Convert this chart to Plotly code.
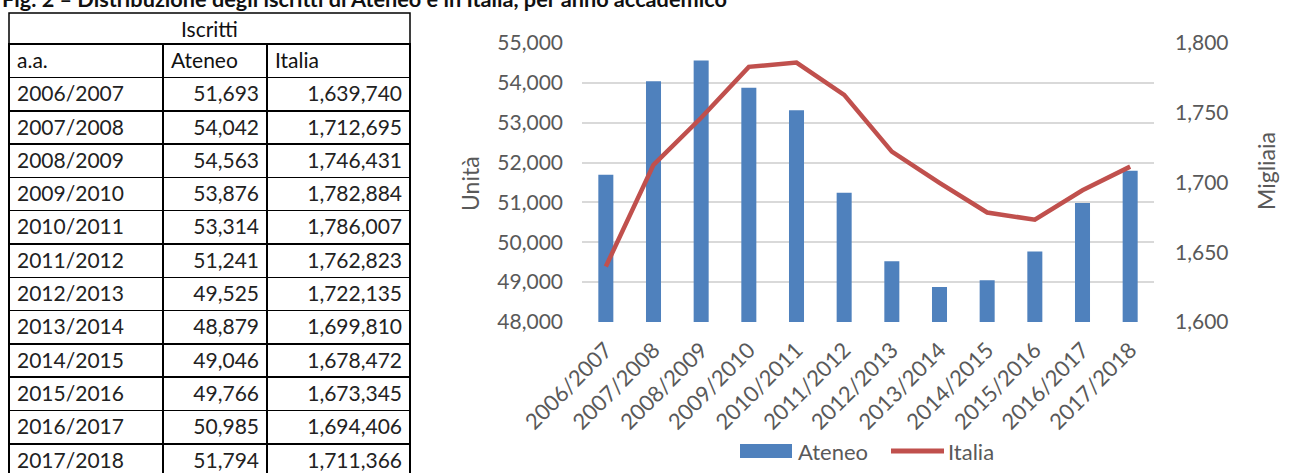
import plotly.graph_objects as go

W, H = 1294, 473

anni = ["2006/2007", "2007/2008", "2008/2009", "2009/2010", "2010/2011", "2011/2012",
        "2012/2013", "2013/2014", "2014/2015", "2015/2016", "2016/2017", "2017/2018"]
ateneo = [51693, 54042, 54563, 53876, 53314, 51241, 49525, 48879, 49046, 49766, 50985, 51794]
italia = [1639740, 1712695, 1746431, 1782884, 1786007, 1762823, 1722135, 1699810,
          1678472, 1673345, 1694406, 1711366]

titolo = "Fig. 2 – Distribuzione degli iscritti di Ateneo e in Italia, per anno accademico"
header_table = ["a.a.", "Ateneo", "Italia"]

FONT = "Lato"
GREY = "#595959"
BLUE = "#4F81BD"
RED = "#C0504D"


def px(x):
    return x / W


def py(y):
    return 1 - y / H


fig = go.Figure()

# table
fig.add_trace(go.Table(
    domain=dict(x=[px(9), px(410)], y=[0, py(44)]),
    columnwidth=[154, 104, 143],
    header=dict(values=header_table, align=["left", "left", "left"],
                fill_color="white", line=dict(color="black", width=1.5),
                font=dict(family=FONT, size=21, color="#111"), height=33.5),
    cells=dict(values=[anni, [f"{v:,}" for v in ateneo], [f"{v:,}" for v in italia]],
               align=["left", "right", "right"], fill_color="white",
               line=dict(color="black", width=1.5),
               font=dict(family=FONT, size=21, color="#222"), height=33.3),
))

# chart
fig.add_trace(go.Bar(x=anni, y=ateneo, name="Ateneo", marker=dict(color=BLUE, line=dict(width=0)),
                     showlegend=False))
fig.add_trace(go.Scatter(x=anni, y=[v / 1000 for v in italia], name="Italia", mode="lines",
                         line=dict(color=RED, width=4.5), yaxis="y2", showlegend=False))

fig.update_layout(
    width=W, height=H,
    margin=dict(l=0, r=0, t=0, b=0, autoexpand=False),
    paper_bgcolor="white", plot_bgcolor="white",
    bargap=0.685,
    xaxis=dict(domain=[px(582), px(1154)], type="category", tickangle=-45, automargin=False,
               tickfont=dict(family=FONT, size=22, color=GREY), showline=False,
               showgrid=False, ticks="", ticklabelstandoff=10),
    yaxis=dict(domain=[py(322), py(43)], range=[48000, 55000], dtick=1000, tickformat=",",
               gridcolor="#D9D9D9", gridwidth=1.5, showline=False, zeroline=False, automargin=False,
               tickfont=dict(family=FONT, size=21, color=GREY), ticklabelstandoff=18),
    yaxis2=dict(overlaying="y", side="right", range=[1600, 1800], dtick=50, tickformat=",",
                showgrid=False, zeroline=False, showline=False, automargin=False,
                tickfont=dict(family=FONT, size=21, color=GREY), ticklabelstandoff=20),
)

shapes = [
    dict(type="rect", xref="paper", yref="paper", x0=px(9), x1=px(410), y0=py(44), y1=py(13),
         line=dict(color="black", width=1.5), fillcolor="white", layer="below"),
    dict(type="rect", xref="paper", yref="paper", x0=px(740), x1=px(792), y0=py(458), y1=py(444),
         line=dict(width=0), fillcolor=BLUE),
    dict(type="line", xref="paper", yref="paper", x0=px(891), x1=px(944), y0=py(451), y1=py(451),
         line=dict(color=RED, width=5)),
]
annotations = [
    dict(text="Iscritti", x=px(209.5), y=py(28.5), xref="paper", yref="paper",
         xanchor="center", yanchor="middle",
         showarrow=False, font=dict(family=FONT, size=21, color="#111")),
    dict(text="<b>" + titolo + "</b>", x=0, y=py(-1), xref="paper", yref="paper",
         xanchor="left", yanchor="middle", showarrow=False,
         font=dict(family=FONT, size=21.7, color="#111")),
    dict(text="Unità", x=px(470), y=py(184), xref="paper", yref="paper", textangle=-90,
         xanchor="center", yanchor="middle",
         showarrow=False, font=dict(family=FONT, size=23, color=GREY)),
    dict(text="Migliaia", x=px(1266), y=py(171), xref="paper", yref="paper", textangle=-90,
         xanchor="center", yanchor="middle",
         showarrow=False, font=dict(family=FONT, size=23, color=GREY)),
    dict(text="Ateneo", x=px(796), y=py(451), xref="paper", yref="paper",
         xanchor="left", yanchor="middle",
         showarrow=False, font=dict(family=FONT, size=22, color=GREY)),
    dict(text="Italia", x=px(946), y=py(451), xref="paper", yref="paper",
         xanchor="left", yanchor="middle",
         showarrow=False, font=dict(family=FONT, size=22, color=GREY)),
]
fig.update_layout(shapes=shapes, annotations=annotations)

fig.write_html("out.html", config={"displayModeBar": False},
               post_script="document.body.style.margin='0';")
